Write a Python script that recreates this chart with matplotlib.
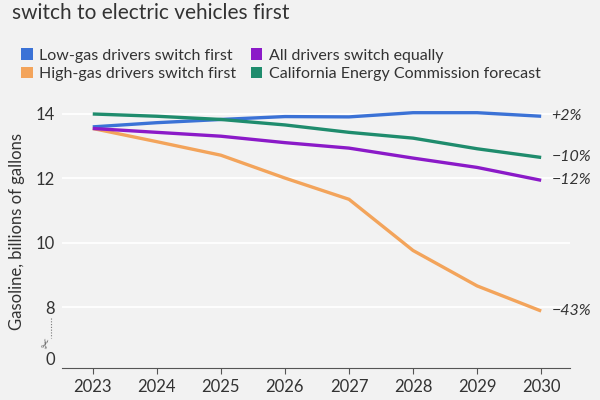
import matplotlib
matplotlib.use("Agg")
import matplotlib.pyplot as plt
from matplotlib.patches import Patch
from matplotlib.lines import Line2D

plt.rcParams['font.family'] = ['Lato', 'DejaVu Sans']

years = [2023, 2024, 2025, 2026, 2027, 2028, 2029, 2030]
low_gas = [13.6, 13.73, 13.83, 13.92, 13.91, 14.04, 14.04, 13.93]
high_gas = [13.55, 13.14, 12.72, 12.01, 11.35, 9.76, 8.66, 7.88]
all_equal = [13.55, 13.43, 13.31, 13.11, 12.94, 12.63, 12.34, 11.94]
cec = [14.0, 13.93, 13.83, 13.66, 13.43, 13.25, 12.92, 12.65]

series_names = ["Low-gas drivers switch first", "High-gas drivers switch first",
                "All drivers switch equally", "California Energy Commission forecast"]
series_values = [low_gas, high_gas, all_equal, cec]
series_colors = ["#3b72d6", "#f3a45b", "#8b1ac8", "#1f8c6d"]
end_labels = ["+2%", "\u221243%", "\u221212%", "\u221210%"]

ytick_values = [6.39, 8, 10, 12, 14]
ytick_labels = ["0", "8", "10", "12", "14"]
grid_values = [8, 10, 12, 14]

bg = "#f2f2f2"
text_col = "#333333"

fig = plt.figure(figsize=(6, 4), dpi=100, facecolor=bg)
ax = fig.add_axes([62 / 600, 32 / 400, 508 / 600, 273 / 400], facecolor=bg)

ax.hlines(grid_values, 2022.52, 2030.45, colors="white", lw=1.3, zorder=0)

for vals, col, lab in zip(series_values, series_colors, end_labels):
    ax.plot(years, vals, color=col, lw=2.4, solid_capstyle="butt", zorder=3)
    ax.text(years[-1] + 0.16, vals[-1], lab, fontsize=11.5, style="italic",
            color=text_col, va="center", ha="left")

ax.set_xlim(2022.52, 2030.45)
ax.set_ylim(6.11, 14.59)
ax.set_xticks(years)
ax.set_xticklabels([str(y) for y in years], fontsize=12, color=text_col)
ax.set_yticks(ytick_values)
ax.set_yticklabels(ytick_labels, fontsize=12, color=text_col)
ax.tick_params(axis="y", length=0, pad=5)
ax.tick_params(axis="x", length=4, color="#555555", pad=4)
for s in ["top", "right", "left"]:
    ax.spines[s].set_visible(False)
ax.spines["bottom"].set_color("#555555")
ax.set_ylabel("Gasoline, billions of gallons", fontsize=12, color=text_col)
ax.yaxis.set_label_coords(-0.073, 0.5)

# axis break marker
fig.add_artist(Line2D([50.5 / 600] * 2, [1 - 318 / 400, 1 - 338 / 400],
                      ls=(0, (1, 1.5)), color="#777777", lw=0.8))
fig.text(47 / 600, 1 - 344 / 400, "\u2702", family=["DejaVu Sans"], fontsize=9,
         color="#666666", rotation=70, ha="center", va="center")

fig.text(12 / 600, 1 - 13 / 400, "switch to electric vehicles first", fontsize=15,
         color=text_col, va="center", ha="left")

handles = [Patch(facecolor=c, edgecolor="none") for c in series_colors]
fig.legend(handles, series_names, ncol=2, loc="upper left",
           bbox_to_anchor=(7 / 600, 1 - 34 / 400), frameon=False, fontsize=11.5,
           handlelength=0.72, handleheight=0.72, handletextpad=0.4,
           columnspacing=0.9, labelspacing=0.25, labelcolor=text_col)

fig.savefig("out.png", dpi=100, facecolor=bg)
